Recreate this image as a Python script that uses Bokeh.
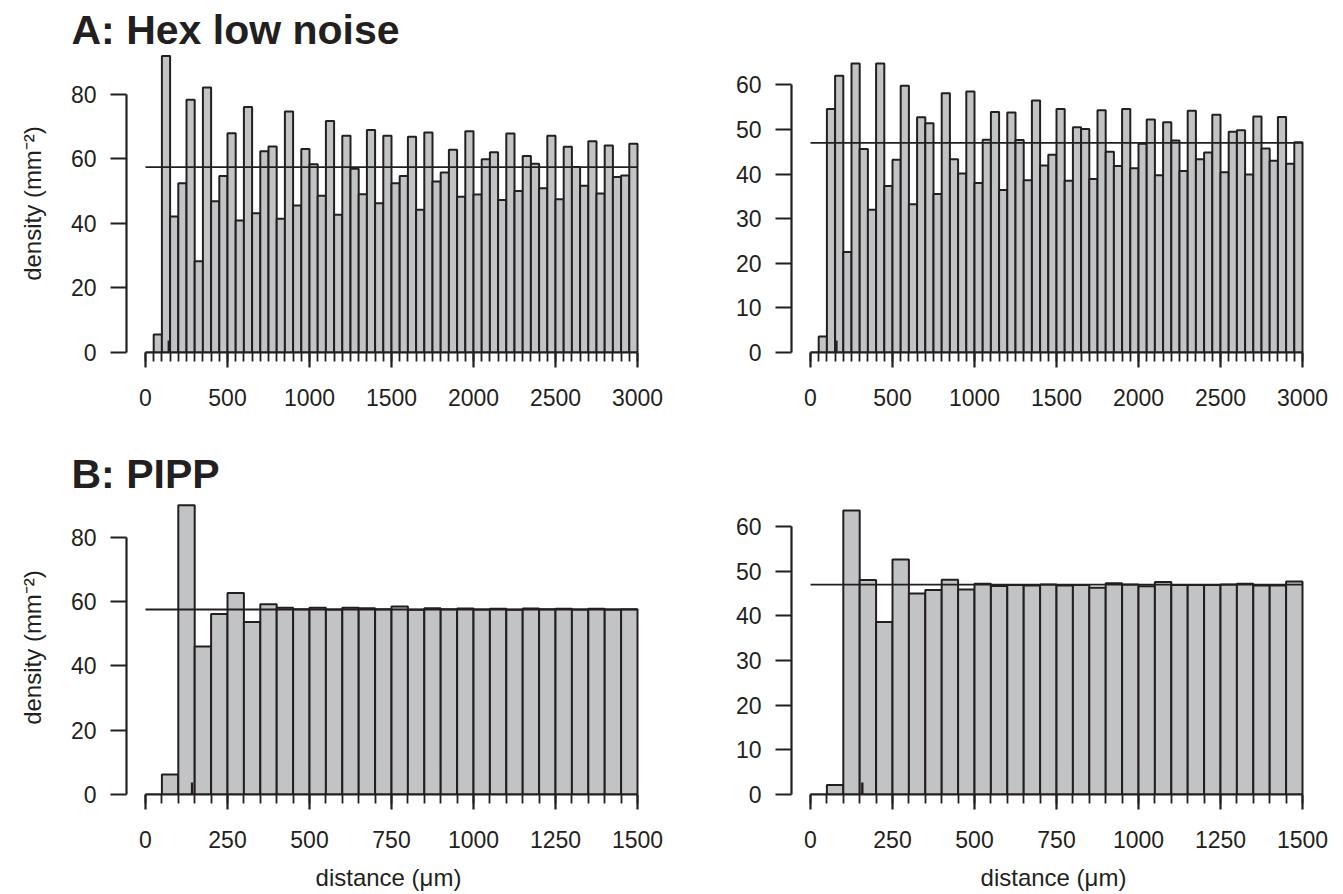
import numpy as np
from bokeh.plotting import figure
from bokeh.models import FixedTicker, Range1d
from bokeh.layouts import column, row
from bokeh.embed import file_html
from bokeh.resources import INLINE

# ---------------- data ----------------
bin_width = 50

# A: Hex low noise  (bins of 50 um from 0 to 3000)
hex_left = [0, 5.6, 91.9, 42.2, 52.5, 78.4, 28.3, 82.2, 46.9, 54.7,
            68.0, 40.9, 76.1, 43.2, 62.4, 63.9, 41.5, 74.7, 45.6, 63.1,
            58.4, 48.6, 71.8, 42.7, 67.2, 57.0, 49.1, 69.0, 46.3, 67.2,
            52.5, 54.7, 66.9, 44.3, 68.2, 53.0, 55.8, 62.9, 48.3, 68.6,
            49.0, 59.9, 62.1, 47.3, 67.9, 50.1, 60.9, 58.5, 50.9, 67.2,
            47.5, 63.8, 57.5, 51.7, 65.5, 49.3, 64.2, 54.4, 54.9, 64.7]
hex_right = [0, 3.6, 54.6, 62.0, 22.5, 64.8, 45.6, 32.0, 64.8, 37.3,
             43.2, 59.8, 33.2, 52.7, 51.4, 35.5, 58.1, 43.3, 40.1, 58.5,
             38.0, 47.7, 53.9, 36.4, 53.8, 47.6, 38.6, 56.5, 41.9, 44.3,
             54.6, 38.5, 50.5, 50.1, 38.9, 54.3, 45.0, 41.8, 54.6, 41.3,
             46.8, 52.2, 39.7, 51.6, 47.5, 40.7, 54.2, 43.3, 44.8, 53.3,
             40.4, 49.5, 49.8, 39.9, 52.9, 45.7, 43.0, 52.8, 42.3, 47.1]

# B: PIPP (bins of 50 um from 0 to 1500)
pipp_left = [0, 6.2, 89.9, 46.0, 56.1, 62.6, 53.6, 59.1, 58.0, 57.6,
             58.0, 57.5, 58.0, 57.9, 57.6, 58.4, 57.4, 57.9, 57.6, 57.8,
             57.5, 57.7, 57.4, 57.8, 57.6, 57.7, 57.5, 57.7, 57.5, 57.6]
pipp_right = [0, 2.1, 63.6, 48.0, 38.6, 52.6, 45.0, 45.8, 48.1, 45.9,
              47.2, 46.7, 46.9, 46.8, 47.0, 46.8, 46.9, 46.3, 47.3, 47.0,
              46.6, 47.6, 46.9, 46.9, 46.9, 47.0, 47.2, 46.8, 46.8, 47.7]

mean_density_left = 57.5
mean_density_right = 47.0
exclusion_left = 142      # short marker on the distance axis
exclusion_right = 158
marker_height_left = 3.7
marker_height_right = 2.7

hex_xticks = [0, 500, 1000, 1500, 2000, 2500, 3000]
pipp_xticks = [0, 250, 500, 750, 1000, 1250, 1500]
left_yticks = [0, 20, 40, 60, 80]
right_yticks = [0, 10, 20, 30, 40, 50, 60]

title_a = "A: Hex low noise"
title_b = "B: PIPP"
ylab = "density (mm\u207b\u00b2)"
xlab = "distance (\u03bcm)"

# ---------------- style ----------------
INK = "#231f20"
GRAY = "#c2c3c5"
FONT = "Liberation Sans"


def panel(values, mean, mark_x, mark_h, xticks, yticks, y_end, x_pad_left,
          x_pad_right, width, height, mbl, mbr, mbt, mbb,
          xlabel=None, ylabel=None, title=None, title_standoff=4):
    xmax = xticks[-1]
    edges = np.arange(0, xmax + bin_width, bin_width)
    p = figure(width=width, height=height,
               x_range=Range1d(-x_pad_left, xmax + x_pad_right),
               y_range=Range1d(0, y_end),
               output_backend="svg", toolbar_location=None,
               min_border_left=mbl, min_border_right=mbr,
               min_border_top=mbt, min_border_bottom=mbb)
    p.xgrid.visible = False
    p.ygrid.visible = False
    p.outline_line_color = None
    p.background_fill_color = "white"
    p.border_fill_color = "white"

    if title:
        p.title.text = title
        p.title.text_font = FONT
        p.title.text_font_size = "41px"
        p.title.text_font_style = "bold"
        p.title.text_color = INK
        p.title.align = "left"
        p.title.offset = -55
        p.title.standoff = title_standoff

    p.quad(left=edges[:-1], right=edges[1:], bottom=0, top=values,
           fill_color=GRAY, line_color=INK, line_width=2.0)
    p.segment(x0=[edges[0]], x1=[edges[-1]], y0=[mean], y1=[mean],
              line_color=INK, line_width=1.8)
    p.segment(x0=[mark_x], x1=[mark_x], y0=[0], y1=[mark_h],
              line_color=INK, line_width=2.4)

    xa = p.xaxis[0]
    xa.ticker = FixedTicker(ticks=xticks, minor_ticks=list(edges))
    xa.bounds = (0, xmax)
    xa.major_tick_in = 0
    xa.minor_tick_in = 0
    xa.major_tick_out = 15
    xa.minor_tick_out = 9
    xa.axis_line_width = 2.2
    xa.major_tick_line_width = 2.2
    xa.minor_tick_line_width = 1.8
    xa.axis_line_color = INK
    xa.major_tick_line_color = INK
    xa.minor_tick_line_color = INK
    xa.major_label_text_font = FONT
    xa.major_label_text_font_size = "23px"
    xa.major_label_text_color = INK
    xa.major_label_standoff = 21
    if xlabel:
        xa.axis_label = xlabel
        xa.axis_label_text_font = FONT
        xa.axis_label_text_font_size = "24px"
        xa.axis_label_text_font_style = "normal"
        xa.axis_label_text_color = INK
        xa.axis_label_standoff = 13

    ya = p.yaxis[0]
    ya.ticker = FixedTicker(ticks=yticks, minor_ticks=[])
    ya.bounds = (0, yticks[-1])
    ya.major_tick_in = 0
    ya.major_tick_out = 16
    ya.axis_line_width = 2.2
    ya.major_tick_line_width = 2.2
    ya.axis_line_color = INK
    ya.major_tick_line_color = INK
    ya.major_label_text_font = FONT
    ya.major_label_text_font_size = "23px"
    ya.major_label_text_color = INK
    ya.major_label_standoff = 14
    if ylabel:
        ya.axis_label = ylabel
        ya.axis_label_text_font = FONT
        ya.axis_label_text_font_size = "24px"
        ya.axis_label_text_font_style = "normal"
        ya.axis_label_text_color = INK
        ya.axis_label_standoff = 22
    return p


pad_hex_l, pad_hex_r = 19 / 0.164, 13 / 0.164
pad_pipp_l, pad_pipp_r = 19 / 0.328, 13 / 0.328

p1 = panel(hex_left, mean_density_left, exclusion_left, marker_height_left,
           hex_xticks, left_yticks, 92.4, pad_hex_l, pad_hex_r,
           673, 440, 126, 23, 54, 88, ylabel=ylab, title=title_a,
           title_standoff=3)
p2 = panel(hex_right, mean_density_right, exclusion_right, marker_height_right,
           hex_xticks, right_yticks, 66.79, pad_hex_l, pad_hex_r,
           670, 440, 118, 28, 54, 88)
p3 = panel(pipp_left, mean_density_left, exclusion_left, marker_height_left,
           pipp_xticks, left_yticks, 91.37, pad_pipp_l, pad_pipp_r,
           673, 454, 126, 23, 60, 100, xlabel=xlab, ylabel=ylab,
           title=title_b, title_standoff=8)
p4 = panel(pipp_right, mean_density_right, exclusion_right, marker_height_right,
           pipp_xticks, right_yticks, 65.82, pad_pipp_l, pad_pipp_r,
           670, 454, 118, 28, 60, 100, xlabel=xlab)

layout = column(row(p1, p2), row(p3, p4))
open("out.html", "w").write(file_html(layout, INLINE))
